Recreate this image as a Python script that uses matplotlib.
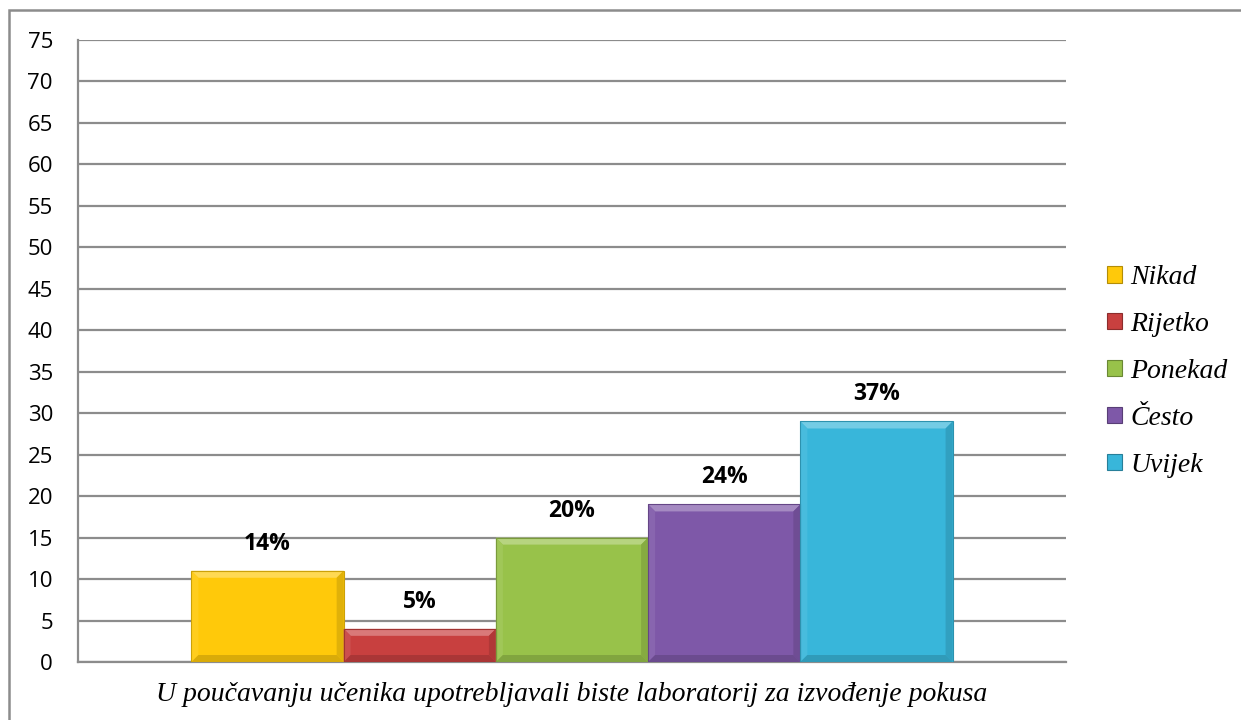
import matplotlib
matplotlib.use("Agg")
import matplotlib.pyplot as plt
from matplotlib.patches import Rectangle, Polygon
from matplotlib.colors import to_rgb
import numpy as np

categories = ["Nikad", "Rijetko", "Ponekad", "Često", "Uvijek"]
values = [11, 4, 15, 19, 29]
pct_labels = ["14%", "5%", "20%", "24%", "37%"]
colors = ["#FFC90A", "#C8403F", "#98C24A", "#7E58A8", "#38B6DA"]
yticks = list(range(0, 80, 5))
xlabel = "U poučavanju učenika upotrebljavali biste laboratorij za izvođenje pokusa"

W, H = 1241, 720
fig = plt.figure(figsize=(W / 100, H / 100), dpi=100)
ax = fig.add_axes([78 / W, 1 - 662 / H, (1066 - 78) / W, (662 - 40) / H])

# outer chart border
fig.patches.append(Rectangle((9 / W, -0.05), 1.1, (1 - 10 / H) + 0.05,
                             transform=fig.transFigure, fill=False,
                             edgecolor="#8C8C8C", linewidth=1.8, zorder=0))

def shade(c, f):
    r, g, b = to_rgb(c)
    if f >= 0:
        return (r + (1 - r) * f, g + (1 - g) * f, b + (1 - b) * f)
    return (r * (1 + f), g * (1 + f), b * (1 + f))

x = np.arange(len(values))
bars = ax.bar(x, values, width=1.0, color=colors, edgecolor="none", zorder=3)

# bevel effect
px_x = 1 / 152.2
px_y = 75 / 622
bx, by = 7 * px_x, 7 * px_y
for b, c in zip(bars, colors):
    x0, y0 = b.get_x(), b.get_y()
    x1, y1 = x0 + b.get_width(), y0 + b.get_height()
    ax.add_patch(Polygon([(x0, y1), (x1, y1), (x1 - bx, y1 - by), (x0 + bx, y1 - by)],
                         closed=True, facecolor=shade(c, 0.3), edgecolor="none", zorder=4))
    ax.add_patch(Polygon([(x0, y0), (x0, y1), (x0 + bx, y1 - by), (x0 + bx, y0 + by)],
                         closed=True, facecolor=shade(c, 0.08), edgecolor="none", zorder=4))
    ax.add_patch(Polygon([(x1, y0), (x1, y1), (x1 - bx, y1 - by), (x1 - bx, y0 + by)],
                         closed=True, facecolor=shade(c, -0.12), edgecolor="none", zorder=4))
    ax.add_patch(Polygon([(x0, y0), (x1, y0), (x1 - bx, y0 + by), (x0 + bx, y0 + by)],
                         closed=True, facecolor=shade(c, -0.15), edgecolor="none", zorder=4))
    ax.add_patch(Rectangle((x0, y0), x1 - x0, y1 - y0, fill=False,
                           edgecolor=shade(c, -0.2), linewidth=0.8, zorder=5))

for xi, v, lab in zip(x, values, pct_labels):
    ax.annotate(lab, (xi, v), xytext=(0, 19.5), textcoords="offset points",
                ha="center", va="center", fontsize=16.5, fontweight="bold",
                family="Open Sans", color="black", zorder=6)

ax.set_xlim(-1.245, 5.245)
ax.set_ylim(0, 75)
ax.set_yticks(yticks)
ax.set_yticklabels([str(t) for t in yticks], family="Open Sans", fontsize=16)
ax.tick_params(axis="y", length=0, pad=18)
ax.set_xticks([])
ax.yaxis.grid(True, color="#8C8C8C", linewidth=1.6, zorder=0)
ax.set_axisbelow(True)
for s in ["top", "right"]:
    ax.spines[s].set_visible(False)
ax.spines["left"].set_color("#8C8C8C")
ax.spines["left"].set_linewidth(1.6)
ax.spines["bottom"].set_color("#8C8C8C")
ax.spines["bottom"].set_linewidth(1.6)

ax.set_xlabel(xlabel, family="Liberation Serif", style="italic", fontsize=20, labelpad=14.5)

handles = [Rectangle((0, 0), 1, 1, facecolor=c, edgecolor=shade(c, -0.3), linewidth=0.8)
           for c in colors]
leg = fig.legend(handles, categories, loc="upper left", bbox_to_anchor=(1107 / W, 1 - 265 / H),
                 frameon=False, prop={"family": "Liberation Serif", "style": "italic", "size": 20},
                 handlelength=0.55, handleheight=0.55, handletextpad=0.3, labelspacing=0.79,
                 borderaxespad=0, borderpad=0)

fig.savefig("out.png", dpi=100)
